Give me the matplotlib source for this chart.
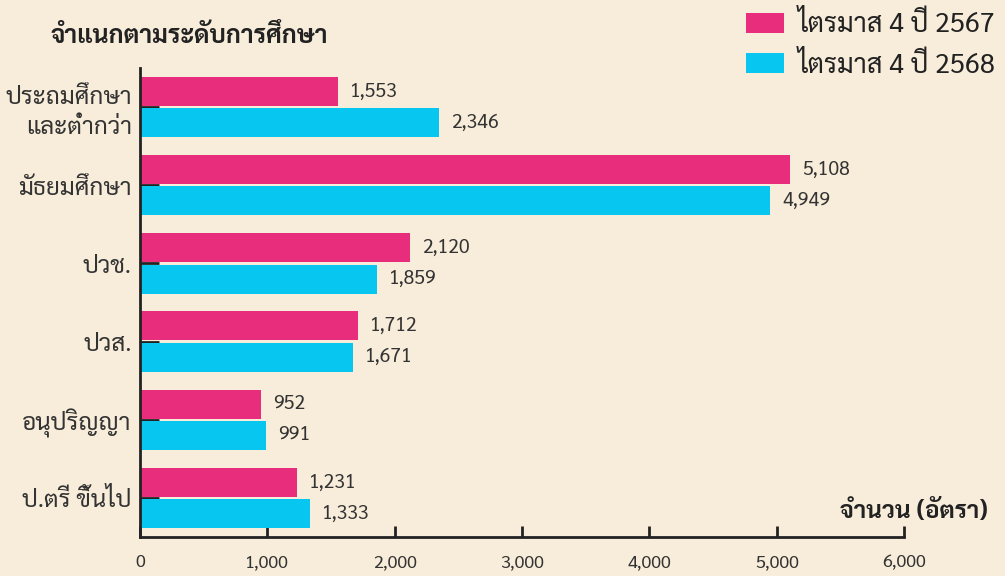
import matplotlib
matplotlib.use("Agg")
import matplotlib.pyplot as plt
import numpy as np
from matplotlib import font_manager

# data
categories = ["ประถมศึกษา\nและต่ำกว่า", "มัธยมศึกษา", "ปวช.", "ปวส.",
              "อนุปริญญา", "ป.ตรี ขึ้นไป"]
q4_2567 = [1553, 5108, 2120, 1712, 952, 1231]
q4_2568 = [2346, 4949, 1859, 1671, 991, 1333]
series_labels = ["ไตรมาส 4 ปี 2567", "ไตรมาส 4 ปี 2568"]
xticks = [0, 1000, 2000, 3000, 4000, 5000, 6000]

PINK = "#E82D7C"
BLUE = "#07C6F0"
BG = "#F8EDDA"
TXT = "#333333"


def pick_font(prefs):
    for name in prefs:
        try:
            font_manager.findfont(name, fallback_to_default=False)
            return name
        except Exception:
            pass
    return "DejaVu Sans"


thai = pick_font(["Sarabun", "Noto Sans Thai", "IBM Plex Sans Thai", "Anuphan"])
plt.rcParams["font.family"] = [thai, "DejaVu Sans"]

fig = plt.figure(figsize=(10.05, 5.76), dpi=100, facecolor=BG)
ax = fig.add_axes([140 / 1005, 1 - 537 / 576, 764 / 1005, 469 / 576])
ax.set_facecolor(BG)
ax.set_axisbelow(True)

y = np.arange(len(categories))
h = 0.37
ax.barh(y - 0.2, q4_2567, height=h, color=PINK, label=series_labels[0])
ax.barh(y + 0.2, q4_2568, height=h, color=BLUE, label=series_labels[1])

# value labels next to each bar
for yi, v in zip(y, q4_2567):
    ax.text(v + 95, yi - 0.2, f"{v:,}", va="center", ha="left",
            fontsize=14, color=TXT)
for yi, v in zip(y, q4_2568):
    ax.text(v + 95, yi + 0.2, f"{v:,}", va="center", ha="left",
            fontsize=14, color=TXT)

ax.set_xlim(0, 6000)
ax.set_ylim(len(categories) - 0.5, -0.5)
ax.set_yticks(y)
ax.set_yticklabels(categories, fontsize=17.5, color=TXT, linespacing=1.25)
ax.set_xticks(xticks)
ax.set_xticklabels([f"{t:,}" for t in xticks], fontsize=13, color=TXT)

for s in ["top", "right"]:
    ax.spines[s].set_visible(False)
for s in ["left", "bottom"]:
    ax.spines[s].set_color("#222222")
    ax.spines[s].set_linewidth(2)
ax.tick_params(axis="x", direction="in", length=8, width=2, color="#222222", pad=12)
ax.tick_params(axis="y", direction="in", length=14, width=2, color="#222222", pad=6)

fig.text(50 / 1005, 1 - 37 / 576, "จำแนกตามระดับการศึกษา", fontsize=18,
         fontweight="bold", color="#222222", va="center", ha="left")
fig.text(988 / 1005, 1 - 512 / 576, "จำนวน (อัตรา)", fontsize=17.5,
         fontweight="bold", color="#222222", va="center", ha="right")

fig.legend(loc="upper right", bbox_to_anchor=(1.015, 1.022), frameon=False,
           fontsize=19.5, handlelength=1.42, handleheight=0.77,
           labelspacing=0.5, handletextpad=0.5, labelcolor="#222222")

fig.savefig("out.png", dpi=100, facecolor=BG)
